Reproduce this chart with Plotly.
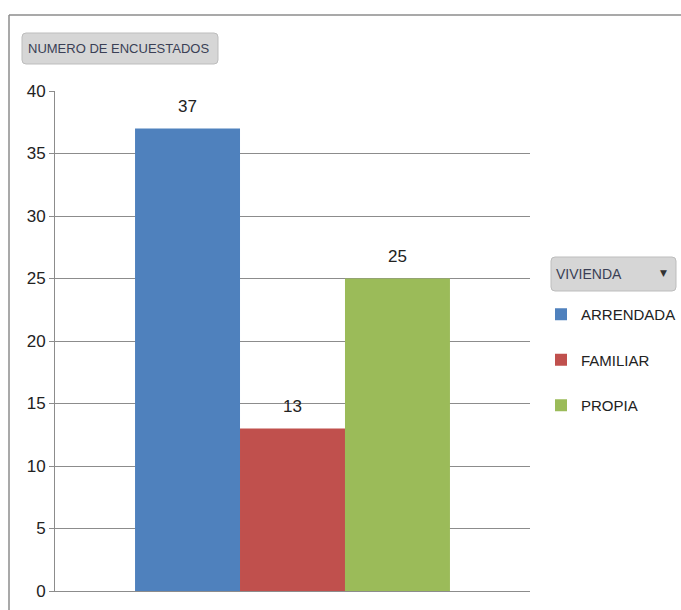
import plotly.graph_objects as go

series = ["ARRENDADA", "FAMILIAR", "PROPIA"]
values = [37, 13, 25]
colors = ["#4F81BD", "#C0504D", "#9BBB59"]
category = [""]
y_ticks = [0, 5, 10, 15, 20, 25, 30, 35, 40]

FONT = "Liberation Sans, Arial, sans-serif"

L, R, T, B = 55, 530, 91, 591
W, H = 681, 610

def px(x):
    return (x - L) / (R - L)

def py(y):
    return (B - y) / (B - T)

fig = go.Figure()
for name, v, c in zip(series, values, colors):
    fig.add_trace(go.Bar(
        x=category, y=[v], name=name, marker=dict(color=c, line=dict(width=0)),
        text=[f"<span style='font-size:17px'>{v}</span><br><span style='color:rgba(0,0,0,0)'>.</span>"],
        textposition="outside", cliponaxis=False,
        textfont=dict(family=FONT, size=9, color="#222222"),
        legendgroup=name,
    ))

def rrect(x0, y0, x1, y1, r=4):
    rx, ry = r / (R - L), r / (B - T)
    X0, X1 = px(x0), px(x1)
    Y0, Y1 = py(y1), py(y0)
    return (f"M {X0+rx},{Y0} L {X1-rx},{Y0} Q {X1},{Y0} {X1},{Y0+ry} "
            f"L {X1},{Y1-ry} Q {X1},{Y1} {X1-rx},{Y1} L {X0+rx},{Y1} "
            f"Q {X0},{Y1} {X0},{Y1-ry} L {X0},{Y0+ry} Q {X0},{Y0} {X0+rx},{Y0} Z")

shapes = [
    dict(type="line", xref="paper", yref="paper", x0=px(9), x1=px(700), y0=py(15), y1=py(15),
         line=dict(color="#8c8c8c", width=1.5)),
    dict(type="line", xref="paper", yref="paper", x0=px(9), x1=px(9), y0=py(15), y1=py(620),
         line=dict(color="#8c8c8c", width=1.5)),
    dict(type="path", xref="paper", yref="paper", path=rrect(22, 33, 218, 64),
         fillcolor="#d6d6d6", line=dict(color="#bdbdbd", width=1)),
    dict(type="path", xref="paper", yref="paper", path=rrect(551, 257, 676, 291),
         fillcolor="#d6d6d6", line=dict(color="#bdbdbd", width=1)),
]

annotations = [
    dict(xref="paper", yref="paper", x=px(26), y=py(48.5), xanchor="left", yanchor="middle",
         text="NUMERO DE ENCUESTADOS", showarrow=False,
         font=dict(family=FONT, size=13, color="#3a3f55")),
    dict(xref="paper", yref="paper", x=px(554), y=py(274), xanchor="left", yanchor="middle",
         text="VIVIENDA", showarrow=False,
         font=dict(family=FONT, size=14, color="#3a3f55")),
    dict(xref="paper", yref="paper", x=px(663), y=py(273), xanchor="center", yanchor="middle",
         text="▼", showarrow=False,
         font=dict(family="DejaVu Sans", size=9, color="#333333")),
]

fig.update_layout(
    width=W, height=H,
    margin=dict(l=L, r=W - R, t=T, b=H - B, autoexpand=False),
    paper_bgcolor="white", plot_bgcolor="white",
    barmode="group", bargap=0.337, bargroupgap=0,
    showlegend=True,
    legend=dict(x=px(541), y=py(298), xanchor="left", yanchor="top",
                font=dict(family=FONT, size=15, color="#222222"),
                traceorder="grouped", tracegroupgap=23,
                itemwidth=30, bgcolor="rgba(0,0,0,0)"),
    xaxis=dict(showticklabels=False, showline=True, linecolor="#8c8c8c", linewidth=1,
               ticks="", showgrid=False, zeroline=False, fixedrange=True),
    yaxis=dict(range=[0, 40], tickvals=y_ticks, showgrid=True, gridcolor="#8c8c8c", gridwidth=1,
               showline=True, linecolor="#8c8c8c", linewidth=1, ticks="outside", ticklen=5,
               tickcolor="#8c8c8c", zeroline=False,
               tickfont=dict(family=FONT, size=17, color="#222222")),
    shapes=shapes, annotations=annotations,
)

fig.write_html("out.html")
